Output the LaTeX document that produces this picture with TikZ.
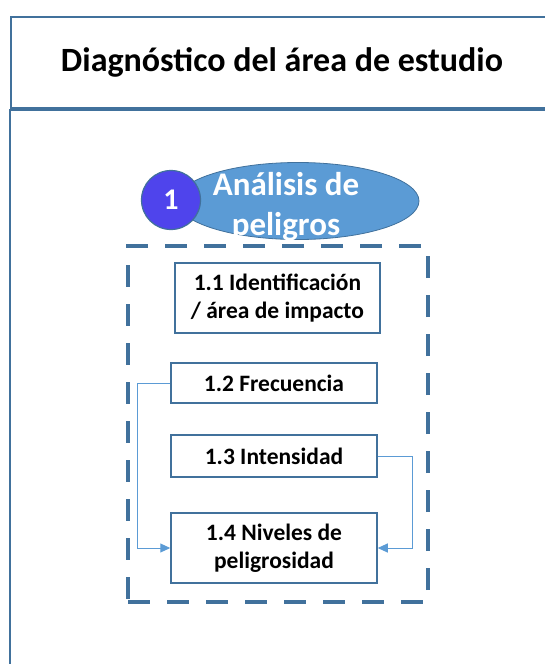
\documentclass[tikz,border=0pt]{standalone}
\usepackage{fontspec}
\setmainfont{Carlito}
\usepackage{xcolor}
\usetikzlibrary{arrows.meta,shapes,positioning,calc}

\definecolor{marco}{HTML}{41719C}
\definecolor{relleno}{HTML}{5B9BD5}
\definecolor{numero}{HTML}{4F44EC}

\begin{document}
\begin{tikzpicture}[x=1pt, y=-1pt,
    paso/.style={draw=marco, line width=1.5pt, minimum width=206pt, align=center, font=\fontsize{23.5}{28}\selectfont\bfseries},
    flecha/.style={draw=relleno, line width=1pt, -{Triangle[length=10pt,width=9pt]}}]
    \clip (0,0) rectangle (545,664);
    % Frame and title
    \node[draw=marco, line width=2pt, minimum width=542pt, minimum height=91pt, font=\fontsize{34}{40}\selectfont\bfseries] (cabecera) at (282,62.5) {Diagnóstico del área de estudio};
    \node[draw=marco, line width=2pt, anchor=north west, minimum width=560pt, minimum height=600pt] (cuerpo) at ($(cabecera.south west)+(-1,0)$) {};

    % Stage 1 header
    \node[draw=marco, line width=4.5pt, dash pattern=on 22pt off 17pt, minimum width=300pt, minimum height=356pt] (grupo) at (278,424) {};
    \node[ellipse, fill=relleno, draw=marco, line width=0.8pt, minimum width=242pt, minimum height=77pt] (fase) at (298,201) {};
    \node[align=center, text=white, font=\fontsize{33}{40}\selectfont\bfseries] (titulo) at (286,207) {Análisis de\\peligros};
    \node[draw=marco, circle, fill=numero, line width=1.2pt, minimum size=59pt, text=white, font=\fontsize{30}{36}\selectfont\bfseries] (uno) at (171,200) {1};

    % Steps
    \node[paso, minimum width=205pt, minimum height=70pt] (n11) at (277.5,298) {1.1 Identificación\\/ área de impacto};
    \node[paso, minimum height=40pt] (n12) at (274,383) {1.2 Frecuencia};
    \node[paso, minimum height=42pt] (n13) at (274,456) {1.3 Intensidad};
    \node[paso, minimum height=70pt] (n14) at (274,548) {1.4 Niveles de\\peligrosidad};

    % Connect nodes
    \draw[flecha] (n12.west) -- ++(-33,0) |- (n14.west);
    \draw[flecha] (n13.east) -- ++(35,0) |- (n14.east);
\end{tikzpicture}
\end{document}
